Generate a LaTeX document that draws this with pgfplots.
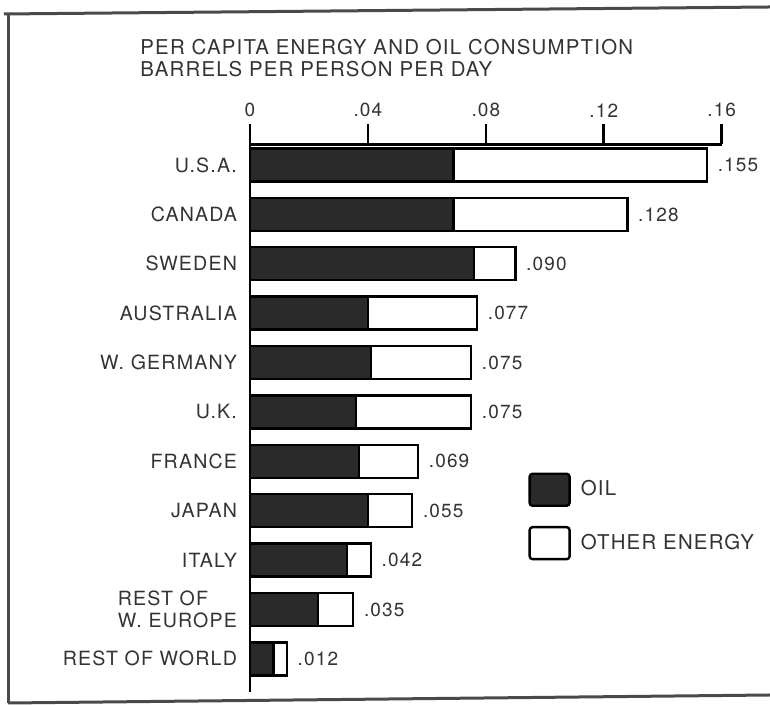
\documentclass[border=0pt]{standalone}
\usepackage{pgfplots}
\pgfplotsset{compat=1.18}
\usepackage{pgfplotstable}
\usepackage{fontspec}
\setmainfont{TeX Gyre Heros}[LetterSpace=6]
\definecolor{txt}{HTML}{333333}
\definecolor{oilc}{HTML}{2A2A2A}
\definecolor{frm}{HTML}{4A4A4A}
\newcommand\lblfont{\fontsize{9.5}{10.7}\selectfont}
\newcommand\catfont{\fontsize{9.8}{10.7}\selectfont}
\pgfplotsset{myleg/.style={legend image code/.code={\draw[##1, line width=1.2pt, rounded corners=1.5pt] (0pt,-8pt) rectangle (20pt,8pt);}}}

\pgfplotstableread{
idx oil total lab
0 0.069 0.155 .155
1 0.069 0.128 .128
2 0.076 0.090 .090
3 0.040 0.077 .077
4 0.041 0.075 .075
5 0.036 0.075 .075
6 0.037 0.057 .069
7 0.040 0.055 .055
8 0.033 0.041 .042
9 0.023 0.035 .035
10 0.008 0.0125 .012
}\datatable

\begin{document}
\begin{tikzpicture}
\useasboundingbox (0pt,0pt) rectangle (385pt,352.5pt);
\draw[frm, line width=1.5pt] (4pt,1pt) -- (4pt,345.5pt);
\draw[frm, line width=1.5pt] (2pt,345.5pt) -- (385pt,349pt);
\draw[frm, line width=1.5pt] (4pt,1pt) -- (385pt,5pt);
\node[anchor=north west, align=left, text=txt, inner sep=0pt,
      font=\fontsize{10.2}{10.85}\selectfont] at (70pt,333pt)
  {PER CAPITA ENERGY AND OIL CONSUMPTION\\BARRELS PER PERSON PER DAY};
\begin{axis}[
  at={(125pt,280.35pt)}, anchor=north west,
  scale only axis, width=235.85pt, height=273.8pt,
  xmin=0, xmax=0.16, ymin=-0.42, ymax=10.67, y dir=reverse,
  xbar, bar width=16.5pt, bar shift=0pt,
  axis x line*=top, axis y line*=left,
  axis line style={line width=1.3pt, black, -},
  xtick={0,0.04,0.08,0.12,0.16}, xticklabels={0,.04,.08,.12,.16},
  major tick length=10pt, tick align=outside,
  x tick style={line width=1.3pt, black},
  xticklabel style={font=\lblfont, text=txt, anchor=south},
  ytick={0,1,2,3,4,5,6,7,8,9,10},
  yticklabels={U.S.A., CANADA, SWEDEN, AUSTRALIA, W. GERMANY, U.K., FRANCE, JAPAN, ITALY, {REST OF\\W. EUROPE}, REST OF WORLD},
  y tick style={draw=none},
  yticklabel style={font=\catfont, text=txt, anchor=east, align=left, xshift=7pt},
  legend style={at={(axis cs:0.0943,6.22)}, anchor=north west, draw=none, fill=none,
    font=\fontsize{10.2}{11}\selectfont, text=txt, row sep=9.5pt, inner sep=0pt,
    /tikz/every odd column/.append style={column sep=3pt}},
  legend cell align=left, reverse legend,
]
\addplot[fill=white, draw=black, line width=1.2pt, myleg,
  nodes near coords, point meta=explicit symbolic,
  every node near coord/.append style={anchor=west, xshift=1.5pt, font=\lblfont, text=txt}]
  table[x=total, y=idx, meta=lab] {\datatable};
\addplot[fill=oilc, draw=black, line width=1.2pt, myleg]
  table[x=oil, y=idx] {\datatable};
\legend{OTHER ENERGY, OIL}
\end{axis}
\end{tikzpicture}
\end{document}
